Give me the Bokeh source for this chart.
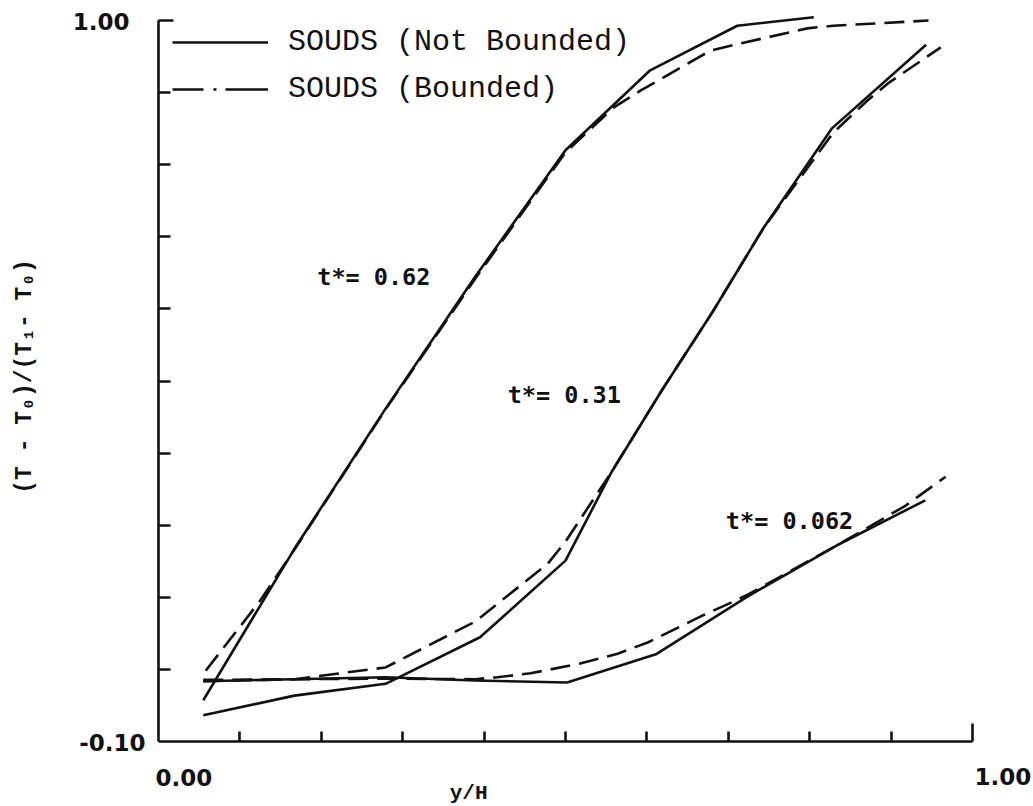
import math

from bokeh.core.properties import value
from bokeh.embed import file_html
from bokeh.models import (ColumnDataSource, CustomJSTickFormatter, FixedTicker,
                          Label, Legend, LegendItem, Range1d)
from bokeh.plotting import figure
from bokeh.resources import INLINE

# ---- temperature profiles, (T - T0)/(T1 - T0) against y/H ----
# SOUDS, not bounded (solid)
x_nb_062 = [0.055, 0.167, 0.279, 0.389, 0.502, 0.611, 0.722, 0.833, 0.942]
y_nb_062 = [-0.008, -0.005, -0.002, -0.007, -0.010, 0.033, 0.120, 0.199, 0.268]

x_nb_031 = [0.055, 0.167, 0.279, 0.395, 0.500, 0.557, 0.619, 0.681, 0.743, 0.827, 0.943]
y_nb_031 = [-0.060, -0.030, -0.012, 0.059, 0.176, 0.312, 0.437, 0.556, 0.683, 0.835, 0.963]

x_nb_062b = [0.055, 0.167, 0.278, 0.389, 0.500, 0.604, 0.711, 0.805]
y_nb_062b = [-0.037, 0.194, 0.406, 0.609, 0.802, 0.924, 0.992, 1.005]

# SOUDS, bounded (dashed)
x_b_062 = [0.055, 0.167, 0.279, 0.389, 0.416, 0.457, 0.518, 0.564, 0.601,
           0.668, 0.700, 0.724, 0.833, 0.875, 0.918, 0.967]
y_b_062 = [-0.006, -0.005, -0.004, -0.005, -0.002, 0.004, 0.019, 0.034, 0.051,
           0.092, 0.110, 0.124, 0.199, 0.229, 0.260, 0.304]

x_b_031 = [0.055, 0.167, 0.279, 0.389, 0.478, 0.500, 0.557, 0.619, 0.681,
           0.743, 0.829, 0.871, 0.896, 0.961]
y_b_031 = [-0.008, -0.005, 0.013, 0.083, 0.171, 0.205, 0.312, 0.437, 0.556,
           0.683, 0.829, 0.878, 0.904, 0.959]

x_b_062b = [0.058, 0.125, 0.167, 0.278, 0.389, 0.500, 0.559, 0.592, 0.678,
            0.715, 0.797, 0.829, 0.946]
y_b_062b = [0.008, 0.115, 0.193, 0.405, 0.606, 0.799, 0.867, 0.893, 0.954,
            0.965, 0.988, 0.992, 1.000]

# curve annotations
curve_labels = ["t*= 0.62", "t*= 0.31", "t*= 0.062"]
curve_label_x = [0.195, 0.429, 0.697]
curve_label_y = [0.609, 0.428, 0.236]

# axis extents and ticks: every 0.1 along y/H, eleven marks on the ordinate
x_lo, x_hi = 0.0, 1.0
y_lo, y_hi = -0.10, 1.00
x_ticks = [round(0.1 * k, 2) for k in range(1, 10)]
y_ticks = [round(-0.10 + 0.11 * k, 2) for k in range(1, 10)]
x_end_labels = ["0.00", "1.00"]
y_end_labels = ["-0.10", "1.00"]

INK = "#111111"
LW = 2.6
DASH = "20 9"
TICK_FONT = "DejaVu Sans"

# The frame fills the page; the axes sit at fixed data positions inside it
# so every piece of text can be placed freely around them.
W, H = 1033, 806
LEFT, RIGHT, TOP, BOTTOM = 158, 972, 20, 741
sx = (x_hi - x_lo) / (RIGHT - LEFT)
sy = (y_hi - y_lo) / (BOTTOM - TOP)
p = figure(width=W, height=H, output_backend="svg", toolbar_location=None,
           x_range=Range1d(x_lo - LEFT * sx, x_hi + (W - RIGHT) * sx),
           y_range=Range1d(y_lo - (H - BOTTOM) * sy, y_hi + TOP * sy),
           min_border=0)
p.outline_line_color = None
p.xgrid.visible = False
p.ygrid.visible = False
p.background_fill_color = "white"
p.border_fill_color = "white"

blank = CustomJSTickFormatter(code="return ''")

xa = p.xaxis[0]
xa.fixed_location = y_lo
xa.bounds = (x_lo, x_hi)
xa.ticker = FixedTicker(ticks=[x_hi], minor_ticks=x_ticks)
xa.formatter = blank
xa.axis_line_width = LW
xa.axis_line_color = INK
xa.major_tick_in = 18
xa.major_tick_out = 0
xa.minor_tick_in = 10
xa.minor_tick_out = 0
xa.major_tick_line_width = LW
xa.minor_tick_line_width = LW
xa.major_tick_line_color = INK
xa.minor_tick_line_color = INK

ya = p.yaxis[0]
ya.fixed_location = x_lo
ya.bounds = (y_lo, y_hi)
ya.ticker = FixedTicker(ticks=[y_hi], minor_ticks=y_ticks)
ya.formatter = blank
ya.axis_line_width = LW
ya.axis_line_color = INK
ya.major_tick_in = 15
ya.major_tick_out = 0
ya.minor_tick_in = 12
ya.minor_tick_out = 0
ya.major_tick_line_width = LW
ya.minor_tick_line_width = LW
ya.major_tick_line_color = INK
ya.minor_tick_line_color = INK

# end values of both axes
label_style = dict(text_font=TICK_FONT, text_font_style="bold",
                   text_font_size="23px", text_color=INK, text_baseline="middle")
p.add_layout(Label(x=x_lo, y=y_lo, x_offset=-3, y_offset=-36, text=x_end_labels[0],
                   text_align="left", **label_style))
p.add_layout(Label(x=x_hi, y=y_lo, x_offset=2, y_offset=-35, text=x_end_labels[1],
                   text_align="left", **label_style))
p.add_layout(Label(x=x_lo, y=y_lo, x_offset=-13, y_offset=-1, text=y_end_labels[0],
                   text_align="right", **label_style))
p.add_layout(Label(x=x_lo, y=y_hi, x_offset=-29, y_offset=-1, text=y_end_labels[1],
                   text_align="right", **label_style))

# axis titles
p.add_layout(Label(x=x_lo, y=0.457, x_offset=-134, text="(T - T\u2080)/(T\u2081- T\u2080)",
                   angle=math.pi / 2, text_align="center", text_baseline="middle",
                   text_font="Liberation Mono", text_font_style="bold",
                   text_font_size="23px", text_color=INK))
p.add_layout(Label(x=0.381, y=y_lo, y_offset=-52, text="y/H", text_align="center",
                   text_baseline="middle", text_font="Liberation Mono",
                   text_font_style="bold", text_font_size="21px", text_color=INK))

# profiles
for xs, ys in [(x_nb_062, y_nb_062), (x_nb_031, y_nb_031), (x_nb_062b, y_nb_062b)]:
    p.line(xs, ys, line_color=INK, line_width=LW, line_join="round")
for xs, ys in [(x_b_062, y_b_062), (x_b_031, y_b_031), (x_b_062b, y_b_062b)]:
    p.line(xs, ys, line_color=INK, line_width=LW, line_dash=DASH, line_join="round")

# curve labels
lab_src = ColumnDataSource(dict(x=curve_label_x, y=curve_label_y, text=curve_labels))
p.text(x="x", y="y", text="text", source=lab_src, text_align="left",
       text_baseline="middle", text_font=value("DejaVu Sans Mono"),
       text_font_style="bold", text_font_size="23.5px", text_color=INK)

# legend keys (no data of their own, only the line style)
nan = [math.nan, math.nan]
key_solid = p.line(nan, nan, line_color=INK, line_width=LW)
key_dash = p.line(nan, nan, line_color=INK, line_width=LW, line_dash="31 10 3 9 60")
legend = Legend(items=[LegendItem(label="SOUDS (Not Bounded)", renderers=[key_solid]),
                       LegendItem(label="SOUDS (Bounded)", renderers=[key_dash])],
                location=(172, H - 22 - 87), margin=0, padding=0, spacing=7,
                glyph_width=96, glyph_height=40, label_height=40, label_standoff=20,
                label_text_font="Liberation Mono", label_text_font_size="30px",
                label_text_color=INK, border_line_color=None,
                background_fill_alpha=0)
p.add_layout(legend)

open("out.html", "w").write(file_html(p, INLINE))
